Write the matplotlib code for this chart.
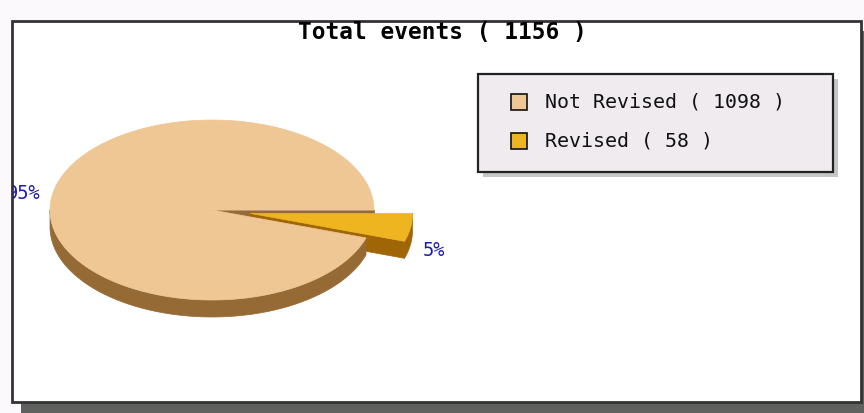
import numpy as np
import matplotlib.pyplot as plt
from matplotlib.patches import Rectangle, Polygon
from matplotlib.transforms import Bbox, TransformedBbox

labels = ["Not Revised", "Revised"]
counts = [1098, 58]
top_colors = ["#eec795", "#efb521"]
side_colors = ["#956a35", "#a06605"]

total = sum(counts)

fig = plt.figure(figsize=(8.64, 4.13), dpi=100, facecolor="#fbf9fb")
ax = fig.add_axes([0, 0, 1, 1])
ax.set_xlim(0, 864)
ax.set_ylim(413, 0)
ax.axis("off")

# outer frame with drop shadow
ax.add_patch(Rectangle((21, 31), 850, 390, facecolor="#5f615f", edgecolor="none", zorder=0))
frame = Rectangle((12, 21), 849, 381, facecolor="white", edgecolor="#333333", lw=2, zorder=1)
ax.add_patch(frame)
frame_box = TransformedBbox(Bbox([[13, 21], [861, 402]]), ax.transData)

ax.text(442, 33, "Total events ( %d )" % total, ha="center", va="center",
        family="DejaVu Sans Mono", weight="bold", fontsize=16.4, zorder=10)

# 3D pie geometry
CX, CY = 212, 210
RX, RY = 162, 90
DEPTH = 17
EXPLODE = 39

fracs = np.array(counts) / total
edges = np.concatenate([[0], np.cumsum(fracs)]) * 2 * np.pi


def rim(t, dx, dy, depth=0):
    return np.column_stack([CX + dx + RX * np.cos(t), CY + dy - RY * np.sin(t) + depth])


def radial_face(a, dx, dy, color, z):
    p = rim(np.array([a]), dx, dy)[0]
    c = (CX + dx, CY + dy)
    pts = [c, p, (p[0], p[1] + DEPTH), (c[0], c[1] + DEPTH)]
    ax.add_patch(Polygon(pts, closed=True, facecolor=color, edgecolor=color, lw=0.5, zorder=z))


def arc_side(a0, a1, dx, dy, color, z):
    lo, hi = max(a0, np.pi), min(a1, 2 * np.pi)
    if hi <= lo:
        return
    t = np.linspace(lo, hi, 200)
    pts = np.vstack([rim(t, dx, dy), rim(t[::-1], dx, dy, DEPTH)])
    ax.add_patch(Polygon(pts, closed=True, facecolor=color, edgecolor=color, lw=0.5, zorder=z))


def top_face(a0, a1, dx, dy, color, z):
    t = np.linspace(a0, a1, 300)
    pts = np.vstack([[CX + dx, CY + dy], rim(t, dx, dy)])
    ax.add_patch(Polygon(pts, closed=True, facecolor=color, edgecolor=color, lw=0.5, zorder=z))


offsets = []
for i in range(len(counts)):
    mid = (edges[i] + edges[i + 1]) / 2
    if i == 1:
        offsets.append((EXPLODE * np.cos(mid), -EXPLODE * np.sin(mid) * RY / RX))
    else:
        offsets.append((0.0, 0.0))

# back to front
radial_face(edges[0], 0, 0, side_colors[0], 2)
dx, dy = offsets[1]
radial_face(edges[1], dx, dy, side_colors[1], 3)
arc_side(edges[1], edges[2], dx, dy, side_colors[1], 3)
top_face(edges[1], edges[2], dx, dy, top_colors[1], 4)
arc_side(edges[0], edges[1], 0, 0, side_colors[0], 5)
top_face(edges[0], edges[1], 0, 0, top_colors[0], 6)

# percentage labels
for i in range(len(counts)):
    mid = (edges[i] + edges[i + 1]) / 2
    dx, dy = offsets[i]
    x = CX + dx + (RX + 12) * np.cos(mid)
    y = CY + dy - (RY + 12) * np.sin(mid)
    if np.sin(mid) < 0:
        y += DEPTH + 4
    ha = "right" if np.cos(mid) < 0 else "left"
    t = ax.text(x, y, "%d%%" % round(fracs[i] * 100), ha=ha, va="center",
                family="DejaVu Sans Mono", fontsize=13.5, color="#1c1ca8", zorder=8)
    t.set_clip_box(frame_box)
    t.set_clip_on(True)

# legend box
ax.add_patch(Rectangle((483, 79), 355, 98, facecolor="#c6c6c6", edgecolor="none", zorder=7))
ax.add_patch(Rectangle((478, 74), 355, 98, facecolor="#efebef", edgecolor="#222222", lw=1.6, zorder=8))
for i, lab in enumerate(labels):
    yc = 102 + i * 39
    ax.add_patch(Rectangle((511, yc - 8), 16, 16, facecolor=top_colors[i], edgecolor="#111111",
                           lw=1.2, zorder=9))
    ax.text(545, yc, "%s ( %d )" % (lab, counts[i]), ha="left", va="center",
            family="DejaVu Sans Mono", fontsize=14.3, color="#111111", zorder=9)

fig.savefig("out.png", dpi=100, facecolor=fig.get_facecolor())
